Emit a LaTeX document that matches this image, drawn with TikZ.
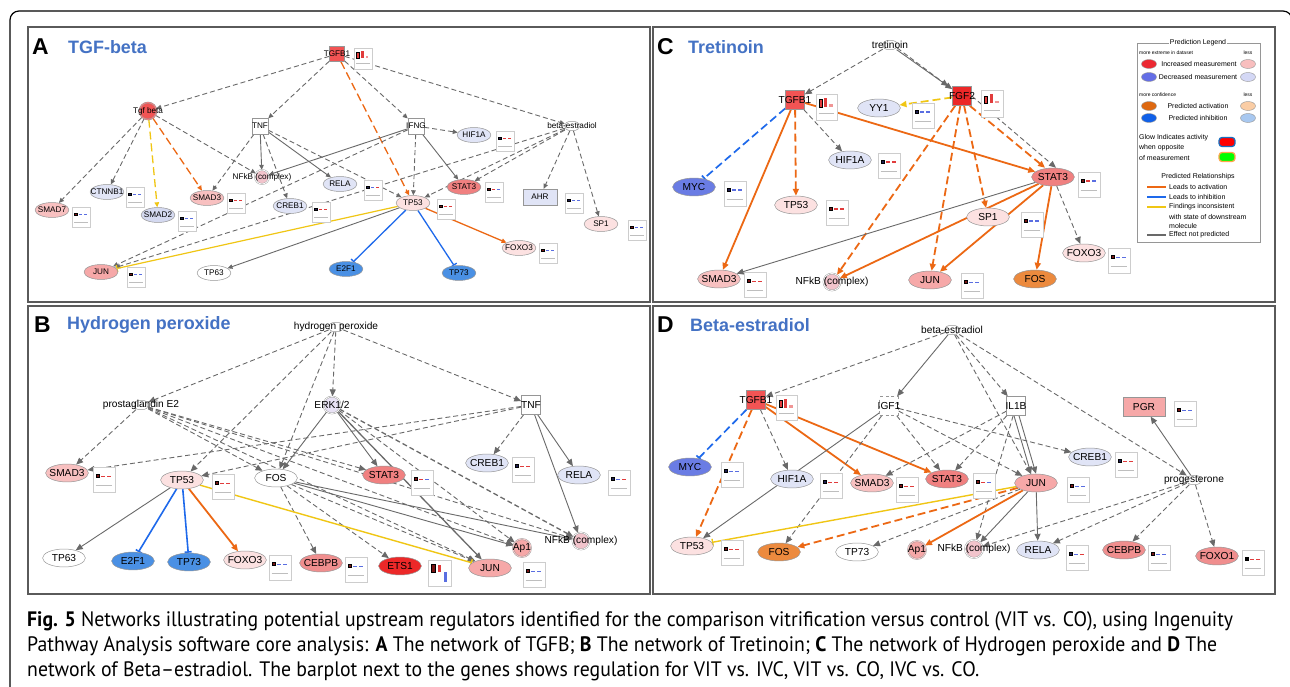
\documentclass[tikz,border=0pt]{standalone}
\usepackage{fontspec}
\usepackage{graphicx}
\setmainfont{Liberation Sans}
\newfontfamily\arl{Liberation Sans}
\newfontfamily\capf{PT Sans}
\usetikzlibrary{shapes.geometric,arrows.meta}
\pgfdeclarelayer{bg}
\pgfdeclarelayer{edges}
\pgfsetlayers{bg,edges,main}
\definecolor{nbd}{RGB}{150,150,150}
\definecolor{eg}{RGB}{105,105,105}
\definecolor{eor}{RGB}{236,104,20}
\definecolor{eye}{RGB}{240,198,20}
\definecolor{ebl}{RGB}{30,105,235}
\definecolor{red1}{RGB}{242,84,84}
\definecolor{red2}{RGB}{236,40,40}
\definecolor{pkA}{RGB}{240,128,128}
\definecolor{pkB}{RGB}{246,168,168}
\definecolor{pkC}{RGB}{248,192,192}
\definecolor{pkD}{RGB}{252,225,225}
\definecolor{pkE}{RGB}{240,142,142}
\definecolor{lb}{RGB}{224,228,246}
\definecolor{lb2}{RGB}{212,217,240}
\definecolor{bb}{RGB}{74,144,228}
\definecolor{myc}{RGB}{106,124,228}
\definecolor{fos}{RGB}{236,138,62}
\definecolor{cpx}{RGB}{242,196,204}
\definecolor{erk}{RGB}{232,226,244}
\definecolor{ttl}{RGB}{68,114,196}
\definecolor{pfr}{RGB}{90,90,90}
\definecolor{bpf}{RGB}{205,205,205}
\definecolor{bpb}{RGB}{190,190,190}
\definecolor{bdr}{RGB}{120,20,20}
\definecolor{bnv}{RGB}{30,30,80}
\definecolor{brd}{RGB}{225,60,60}
\definecolor{bbl}{RGB}{90,110,225}
\definecolor{bpk}{RGB}{240,150,150}
\definecolor{lgr}{RGB}{236,40,50}
\definecolor{lgrl}{RGB}{248,190,190}
\definecolor{lgb}{RGB}{100,110,230}
\definecolor{lgbl}{RGB}{212,216,245}
\definecolor{lgo}{RGB}{222,104,16}
\definecolor{lgol}{RGB}{250,205,165}
\definecolor{lgi}{RGB}{16,96,232}
\definecolor{lgil}{RGB}{168,200,240}
\newcommand\fA{\arl\fontsize{8.2}{9}\selectfont}
\newcommand\fL{\arl\fontsize{10.2}{11}\selectfont}
\newcommand\fLg{\arl\fontsize{7}{8}\selectfont}
\newcommand\fLs{\arl\fontsize{5}{6}\selectfont}
\newcommand\ttlL{\arl\bfseries\fontsize{23}{25}\selectfont}
\newcommand\ttlN{\arl\bfseries\fontsize{18}{20}\selectfont}
\newcommand\capfont{\capf\fontsize{21}{23}\selectfont}
\newcommand\z[1]{\makebox[0pt]{#1}}
\newcommand\bp[7]{%
 \draw[bpf, fill=white, line width=0.6pt] (#1,#2) rectangle (#1+#3,#2+#4);
 \draw[bpb, line width=0.6pt] (#1+0.12*#3,#2+0.74*#4) -- (#1+0.88*#3,#2+0.74*#4);
 \filldraw[fill=#5, draw=black, line width=0.3pt] (#1+0.14*#3,#2+0.3*#4) rectangle (#1+0.28*#3,#2+0.4*#4);
 \fill[#6] (#1+0.38*#3,#2+0.34*#4) rectangle (#1+0.56*#3,#2+0.4*#4);
 \fill[#7] (#1+0.64*#3,#2+0.34*#4) rectangle (#1+0.82*#3,#2+0.4*#4);}
\newcommand\bpt[4]{%
 \draw[bpf, fill=white, line width=0.6pt] (#1,#2) rectangle (#1+#3,#2+#4);
 \draw[bpb, line width=0.6pt] (#1+0.12*#3,#2+0.74*#4) -- (#1+0.88*#3,#2+0.74*#4);
 \filldraw[fill=brd, draw=black, line width=0.5pt] (#1+0.14*#3,#2+0.22*#4) rectangle (#1+0.3*#3,#2+0.5*#4);
 \fill[brd] (#1+0.4*#3,#2+0.16*#4) rectangle (#1+0.54*#3,#2+0.5*#4);
 \fill[bpk] (#1+0.64*#3,#2+0.4*#4) rectangle (#1+0.8*#3,#2+0.5*#4);}
\tikzset{
 gA/.style={ellipse, draw=nbd, line width=0.5pt, inner sep=0pt, minimum width=34pt, minimum height=15pt, font=\fA},
 gL/.style={ellipse, draw=nbd, line width=0.5pt, inner sep=0pt, minimum width=43pt, minimum height=18pt, font=\fL},
 sqbox/.style={rectangle, draw=nbd, line width=0.6pt, inner sep=0pt, minimum size=#1},
 cplx/.style={circle, draw=nbd, line width=0.4pt, double distance=0.8pt, inner sep=0pt, minimum size=#1},
 chem/.style={rectangle, rounded corners=4pt, draw=nbd, line width=0.5pt, fill=white, minimum width=14pt, minimum height=9pt, inner sep=0pt},
 labA/.style={font=\fA, inner sep=0pt},
 labL/.style={font=\fL, inner sep=0pt},
 lgell/.style={ellipse, draw=nbd, line width=0.4pt, minimum width=15pt, minimum height=9pt, inner sep=0pt},
 lgtx/.style={font=\fLg, inner sep=0pt},
 lgsm/.style={font=\fLs, inner sep=0pt},
 panel/.style={draw=pfr, line width=1.3pt},
 gd/.style={draw=eg, line width=0.9pt, dash pattern=on 5pt off 3pt, ->},
 gs/.style={draw=eg, line width=0.9pt, ->},
 od/.style={draw=eor, line width=1.8pt, dash pattern=on 8pt off 4pt, ->},
 os/.style={draw=eor, line width=1.8pt, ->},
 yd/.style={draw=eye, line width=1.7pt, dash pattern=on 8pt off 4pt, ->},
 yt/.style={draw=eye, line width=1.4pt, -{Bar[width=7pt]}},
 bt/.style={draw=ebl, line width=1.6pt, -{Bar[width=7pt]}},
 bdt/.style={draw=ebl, line width=1.7pt, dash pattern=on 8pt off 4pt, -{Bar[width=7pt]}}
}
\newsavebox\capbox
\newlength\capw
\begin{document}
\sbox\capbox{\capfont\textbf{Fig. 5} Networks illustrating potential upstream regulators identified for the comparison vitrification versus control (VIT vs. CO), using Ingenuity}
\setlength\capw{\wd\capbox}
\pgfmathsetmacro\capsc{1210.5/\capw}
\begin{tikzpicture}[x=1bp,y=-1bp]
\useasboundingbox (0,0) rectangle (1290,687);
\begin{pgfonlayer}{bg}
\fill[white] (0,0) rectangle (1290,687);
\end{pgfonlayer}
\begin{scope}
\clip (0,0) rectangle (1290,687);
\draw[line width=1.2pt, rounded corners=9pt] (10,700) -- (10,11) -- (1292,11) -- (1292,700);
\end{scope}
\draw[panel] (28,27) rectangle (650,302);
\draw[panel] (653,27) rectangle (1275,302);
\draw[panel] (28,306) rectangle (650,594);
\draw[panel] (653,306) rectangle (1275,594);
% titles
\node[anchor=west, font=\ttlL, inner sep=0] (tA) at (32,47) {A};
\node[anchor=west, font=\ttlN, text=ttl, inner sep=0] (tA2) at (68,47) {TGF-beta};
\node[anchor=west, font=\ttlL, inner sep=0] (tC) at (657,47) {C};
\node[anchor=west, font=\ttlN, text=ttl, inner sep=0] (tC2) at (688,47) {Tretinoin};
\node[anchor=west, font=\ttlL, inner sep=0] (tB) at (34,325) {B};
\node[anchor=west, font=\ttlN, text=ttl, inner sep=0] (tB2) at (67,325) {Hydrogen peroxide};
\node[anchor=west, font=\ttlL, inner sep=0] (tD) at (657,325) {D};
\node[anchor=west, font=\ttlN, text=ttl, inner sep=0] (tD2) at (690,325) {Beta-estradiol};
% ---------------- Panel A nodes
\node[sqbox=15pt, fill=red1, label={[labA]center:TGFB1}] (TGFB1A) at (337,54) {};
\node[cplx=17pt, fill=red1, double=red1!75!white, label={[labA]center:Tgf beta}] (TgfbA) at (148,111) {};
\node[sqbox=16pt, fill=white, label={[labA]center:TNF}] (TNFA) at (260,126) {};
\node[sqbox=16pt, fill=white, label={[labA]center:IFNG}] (IFNGA) at (416,126) {};
\node[gA, fill=lb] (HIF1AA) at (474,135) {\z{HIF1A}};
\node[chem, label={[labA]center:beta-estradiol}] (beA) at (572,126) {};
\node[cplx=14pt, fill=cpx, double=white, label={[labA]center:NFkB (complex)}] (NFkBA) at (262,177) {};
\node[gA, fill=lb] (RELAA) at (340,184) {\z{RELA}};
\node[gA, fill=lb] (CTNNB1A) at (107,192) {\z{CTNNB1}};
\node[gA, fill=pkC] (SMAD3A) at (207,198) {\z{SMAD3}};
\node[gA, fill=lb] (CREB1A) at (290,206) {\z{CREB1}};
\node[gA, fill=pkA] (STAT3A) at (464,187) {\z{STAT3}};
\node[rectangle, draw=nbd, fill=lb, minimum width=34pt, minimum height=16pt, inner sep=0pt, font=\fA] (AHRA) at (540,197) {AHR};
\node[gA, fill=pkC] (SMAD7A) at (52,210) {\z{SMAD7}};
\node[gA, fill=lb2] (SMAD2A) at (158,215) {\z{SMAD2}};
\node[gA, fill=pkD] (TP53A) at (413,203) {\z{TP53}};
\node[gA, fill=pkD] (SP1A) at (601,224) {\z{SP1}};
\node[gA, fill=pkD] (FOXO3A) at (519,248) {\z{FOXO3}};
\node[gA, fill=pkB] (JUNA) at (101,272) {\z{JUN}};
\node[gA, fill=white] (TP63A) at (214,273) {\z{TP63}};
\node[gA, fill=bb] (E2F1A) at (346,269) {\z{E2F1}};
\node[gA, fill=bb] (TP73A) at (459,273) {\z{TP73}};
\bpt{354}{48}{18}{21}
\bp{496}{131}{18}{20}{bnv}{brd}{brd}
\bp{364}{180}{18}{20}{bnv}{bbl}{brd}
\bp{126}{187}{18}{20}{bnv}{bbl}{bbl}
\bp{227}{193}{18}{20}{bdr}{brd}{brd}
\bp{312}{202}{18}{20}{bnv}{brd}{brd}
\bp{485}{182}{18}{20}{bdr}{brd}{bbl}
\bp{565}{193}{18}{20}{bnv}{bbl}{bbl}
\bp{72}{207}{18}{20}{bdr}{bbl}{bbl}
\bp{178}{211}{18}{20}{bnv}{bbl}{bbl}
\bp{437}{199}{18}{20}{bdr}{brd}{brd}
\bp{628}{220}{18}{20}{bdr}{bbl}{bbl}
\bp{539}{243}{18}{20}{bdr}{bbl}{bbl}
\bp{127}{267}{18}{20}{bdr}{bbl}{bbl}
% ---------------- Panel C nodes
\node[chem, label={[labL]center:tretinoin}] (tretC) at (890,45) {};
\node[sqbox=19pt, fill=red1, label={[labL]center:TGFB1}] (TGFB1C) at (795,100) {};
\node[sqbox=19pt, fill=red2, label={[labL]center:FGF2}] (FGF2C) at (962,96) {};
\node[gL, fill=lb] (YY1C) at (879,108) {\z{YY1}};
\node[gL, fill=lb] (HIF1AC) at (850,160) {\z{HIF1A}};
\node[gL, fill=myc] (MYCC) at (694,187) {\z{MYC}};
\node[gL, fill=pkD] (TP53C) at (796,205) {\z{TP53}};
\node[gL, fill=pkA] (STAT3C) at (1053,177) {\z{STAT3}};
\node[gL, fill=pkD] (SP1C) at (988,217) {\z{SP1}};
\node[gL, fill=pkD] (FOXO3C) at (1084,253) {\z{FOXO3}};
\node[gL, fill=fos] (FOSC) at (1035,279) {\z{FOS}};
\node[gL, fill=pkB] (JUNC) at (930,280) {\z{JUN}};
\node[gL, fill=pkC] (SMAD3C) at (719,279) {\z{SMAD3}};
\node[cplx=17pt, fill=cpx, double=white, label={[labL]center:NFkB (complex)}] (NFkBC) at (832,282) {};
\bpt{816}{94}{21}{26}
\bpt{981}{90}{22}{27}
\bp{912}{103}{22}{25}{bnv}{bbl}{bbl}
\bp{878}{153}{22}{25}{bnv}{brd}{brd}
\bp{724}{181}{22}{25}{bnv}{bbl}{bbl}
\bp{826}{200}{22}{25}{bdr}{brd}{brd}
\bp{1078}{172}{22}{25}{bdr}{brd}{bbl}
\bp{1021}{212}{22}{25}{bdr}{bbl}{bbl}
\bp{1108}{248}{22}{25}{bdr}{bbl}{bbl}
\bp{961}{273}{22}{25}{bdr}{bbl}{bbl}
\bp{744}{272}{22}{25}{bdr}{brd}{brd}
% legend
\draw[nbd, line width=0.8pt] (1137,43) rectangle (1260,242);
\node[fill=white, font=\fLg, inner sep=1pt] (lgT) at (1198,43) {Prediction Legend};
\node[lgsm, anchor=west] (lgm1) at (1139,53) {more extreme in dataset};
\node[lgsm] (lgl1) at (1248,53) {less};
\node[lgell, fill=lgr] (lgE1) at (1149,64) {};
\node[lgtx] (lgt1) at (1199,64) {Increased measurement};
\node[lgell, fill=lgrl] (lgE2) at (1248,64) {};
\node[lgell, fill=lgb] (lgE3) at (1149,77) {};
\node[lgtx] (lgt2) at (1198,77) {Decreased measurement};
\node[lgell, fill=lgbl] (lgE4) at (1248,77) {};
\node[lgsm, anchor=west] (lgm2) at (1139,95) {more confidence};
\node[lgsm] (lgl2) at (1248,95) {less};
\node[lgell, fill=lgo] (lgE5) at (1149,106) {};
\node[lgtx] (lgt3) at (1198,106) {Predicted activation};
\node[lgell, fill=lgol] (lgE6) at (1248,106) {};
\node[lgell, fill=lgi] (lgE7) at (1149,118) {};
\node[lgtx] (lgt4) at (1198,118) {Predicted inhibition};
\node[lgell, fill=lgil] (lgE8) at (1248,118) {};
\node[lgtx, anchor=west] (lgw1) at (1139,138) {Glow Indicates activity};
\node[lgtx, anchor=west] (lgw2) at (1139,148) {when opposite};
\node[lgtx, anchor=west] (lgw3) at (1139,158) {of measurement};
\node[rectangle, rounded corners=3pt, fill=red, draw=cyan!50!blue, line width=1.3pt, minimum width=16pt, minimum height=9pt, inner sep=0pt] (lgG1) at (1227,142) {};
\node[rectangle, rounded corners=3pt, fill=green, draw=orange!70, line width=1.3pt, minimum width=16pt, minimum height=9pt, inner sep=0pt] (lgG2) at (1227,157) {};
\node[lgtx] (lgPR) at (1198,177) {Predicted Relationships};
\draw[eor, line width=1.4pt] (1147,187) -- (1166,187);
\draw[ebl, line width=1.4pt] (1147,197) -- (1166,197);
\draw[eye, line width=1.4pt] (1147,207) -- (1166,207);
\draw[eg, line width=1.4pt] (1147,235) -- (1166,235);
\node[lgtx, anchor=west] (lgr1) at (1169,187) {Leads to activation};
\node[lgtx, anchor=west] (lgr2) at (1169,197) {Leads to inhibition};
\node[lgtx, anchor=west] (lgr3) at (1169,207) {Findings inconsistent};
\node[lgtx, anchor=west] (lgr4) at (1169,217) {with state of downstream};
\node[lgtx, anchor=west] (lgr5) at (1169,226) {molecule};
\node[lgtx, anchor=west] (lgr6) at (1169,235) {Effect not predicted};
% ---------------- Panel B nodes
\node[chem, label={[labL]center:hydrogen peroxide}] (hpB) at (336,327) {};
\node[chem, label={[labL]center:prostaglandin E2}] (pgB) at (141,405) {};
\node[cplx=17pt, fill=erk, double=white, label={[labL]center:ERK1/2}] (ERKB) at (332,405) {};
\node[sqbox=19pt, fill=white, label={[labL]center:TNF}] (TNFB) at (531,405) {};
\node[gL, fill=pkC] (SMAD3B) at (67,473) {\z{SMAD3}};
\node[gL, fill=pkD] (TP53B) at (182,480) {\z{TP53}};
\node[gL, fill=white] (FOSB) at (276,478) {\z{FOS}};
\node[gL, fill=pkA] (STAT3B) at (384,475) {\z{STAT3}};
\node[gL, fill=lb] (CREB1B) at (487,463) {\z{CREB1}};
\node[gL, fill=lb] (RELAB) at (579,475) {\z{RELA}};
\node[cplx=18pt, fill=pkB, double=pkB!60!white, label={[labL]center:Ap1}] (Ap1B) at (522,548) {};
\node[cplx=17pt, fill=cpx, double=white, label={[labL]center:NFkB (complex)}] (NFkBB) at (581,541) {};
\node[gL, fill=white] (TP63B) at (64,558) {\z{TP63}};
\node[gL, fill=bb] (E2F1B) at (133,561) {\z{E2F1}};
\node[gL, fill=bb] (TP73B) at (189,562) {\z{TP73}};
\node[gL, fill=pkD] (FOXO3B) at (245,560) {\z{FOXO3}};
\node[gL, fill=pkE] (CEBPBB) at (321,563) {\z{CEBPB}};
\node[gL, fill=red2] (ETS1B) at (400,566) {\z{ETS1}};
\node[gL, fill=pkB] (JUNB) at (490,568) {\z{JUN}};
\bp{93}{467}{22}{25}{bdr}{brd}{brd}
\bp{212}{474}{22}{25}{bdr}{brd}{brd}
\bp{411}{470}{22}{25}{bdr}{brd}{bbl}
\bp{512}{457}{22}{25}{bnv}{brd}{brd}
\bp{608}{470}{22}{25}{bnv}{bbl}{brd}
\bp{269}{555}{22}{25}{bdr}{bbl}{bbl}
\bp{345}{557}{22}{25}{bdr}{bbl}{bbl}
\bp{523}{562}{22}{25}{bdr}{bbl}{bbl}
\draw[bpf, fill=white, line width=0.6pt] (428,560) rectangle (451,586);
\filldraw[fill=bdr, draw=black, line width=0.5pt] (431,564) rectangle (435,572);
\fill[brd] (438,565) rectangle (441,572);
\fill[bbl] (444,572) rectangle (447,582);
% ---------------- Panel D nodes
\node[chem, label={[labL]center:beta-estradiol}] (beD) at (952,330) {};
\node[sqbox=19pt, fill=red1, label={[labL]center:TGFB1}] (TGFB1D) at (756,400) {};
\node[sqbox=19pt, fill=white, dashed, label={[labL]center:IGF1}] (IGF1D) at (889,406) {};
\node[sqbox=19pt, fill=white, label={[labL]center:IL1B}] (IL1BD) at (1016,406) {};
\node[rectangle, draw=nbd, fill=pkB, minimum width=42pt, minimum height=19pt, inner sep=0pt, font=\fL] (PGRD) at (1144,407) {PGR};
\node[gL, fill=myc] (MYCD) at (690,467) {\z{MYC}};
\node[gL, fill=lb] (HIF1AD) at (792,479) {\z{HIF1A}};
\node[gL, fill=pkC] (SMAD3D) at (872,483) {\z{SMAD3}};
\node[gL, fill=pkA] (STAT3D) at (947,479) {\z{STAT3}};
\node[gL, fill=pkB] (JUND) at (1036,483) {\z{JUN}};
\node[gL, fill=lb] (CREB1D) at (1090,457) {\z{CREB1}};
\node[chem, label={[labL]center:progesterone}] (progD) at (1194,480) {};
\node[gL, fill=pkD] (TP53D) at (692,546) {\z{TP53}};
\node[gL, fill=fos] (FOSD) at (779,552) {\z{FOS}};
\node[gL, fill=white] (TP73D) at (857,552) {\z{TP73}};
\node[cplx=18pt, fill=pkB, double=pkB!60!white, label={[labL]center:Ap1}] (Ap1D) at (917,550) {};
\node[cplx=18pt, fill=cpx, double=white, label={[labL]center:NFkB (complex)}] (NFkBD) at (974,549) {};
\node[gL, fill=lb] (RELAD) at (1038,550) {\z{RELA}};
\node[gL, fill=pkE] (CEBPBD) at (1124,550) {\z{CEBPB}};
\node[gL, fill=pkE] (FOXO1D) at (1217,556) {\z{FOXO1}};
\bpt{776}{395}{21}{25}
\bp{721}{462}{22}{25}{bnv}{bbl}{bbl}
\bp{820}{473}{22}{25}{bnv}{brd}{brd}
\bp{896}{477}{22}{25}{bdr}{brd}{brd}
\bp{973}{473}{22}{25}{bdr}{brd}{bbl}
\bp{1174}{401}{22}{25}{bdr}{bbl}{bbl}
\bp{1115}{452}{22}{25}{bnv}{brd}{brd}
\bp{1067}{477}{22}{25}{bdr}{bbl}{bbl}
\bp{721}{540}{22}{25}{bdr}{brd}{brd}
\bp{1066}{545}{22}{25}{bnv}{bbl}{brd}
\bp{1148}{545}{22}{25}{bdr}{bbl}{bbl}
\bp{1242}{550}{22}{25}{black}{brd}{brd}
% ---------------- caption
\node[anchor=base west, inner sep=0] (cap1) at (27,626) {\scalebox{\capsc}[1]{\usebox\capbox}};
\node[anchor=base west, inner sep=0] (cap2) at (27,651) {\scalebox{\capsc}[1]{\capfont Pathway Analysis software core analysis: \textbf{A} The network of TGFB; \textbf{B} The network of Tretinoin; \textbf{C} The network of Hydrogen peroxide and \textbf{D} The}};
\node[anchor=base west, inner sep=0] (cap3) at (27,676) {\scalebox{\capsc}[1]{\capfont network of Beta–estradiol. The barplot next to the genes shows regulation for VIT vs. IVC, VIT vs. CO, IVC vs. CO.}};
% ---------------- edges
\begin{pgfonlayer}{edges}
\begin{scope}[>={Triangle[length=5pt,width=4.5pt]}]
\draw[gd] (TGFB1A) -- (TgfbA);
\draw[gd] (TGFB1A) -- (TNFA);
\draw[gd] (TGFB1A) -- (IFNGA);
\draw[gd] (TGFB1A) -- (beA);
\draw[od, line width=1.3pt] (TGFB1A) -- (TP53A);
\draw[gd] (TgfbA) -- (SMAD7A);
\draw[gd] (TgfbA) -- (CTNNB1A);
\draw[yd, line width=1.3pt] (TgfbA) -- (SMAD2A);
\draw[od, line width=1.3pt] (TgfbA) -- (SMAD3A);
\draw[gd] (TgfbA) -- (NFkBA);
\draw[gs] (TNFA) -- (NFkBA);
\draw[gd] (TNFA) -- (SMAD3A);
\draw[gd] (TNFA) -- (CREB1A);
\draw[gd] (TNFA) -- (TP53A);
\draw[gs] (TNFA) -- (RELAA);
\draw[gs] (IFNGA) -- (NFkBA);
\draw[gd] (IFNGA) -- (HIF1AA);
\draw[gd] (IFNGA) -- (TP53A);
\draw[gd] (IFNGA) -- (JUNA);
\draw[gs] (IFNGA) -- (STAT3A);
\draw[gd] (beA) -- (STAT3A);
\draw[gd] (beA) -- (TP53A);
\draw[gd] (beA) -- (AHRA);
\draw[gd] (beA) -- (SP1A);
\draw[gd] (beA) -- (JUNA);
\draw[yt, line width=1.2pt] (TP53A) -- (JUNA);
\draw[gs] (TP53A) -- (TP63A);
\draw[bt, line width=1.3pt] (TP53A) -- (E2F1A);
\draw[bt, line width=1.3pt] (TP53A) -- (TP73A);
\draw[os, line width=1.3pt] (TP53A) -- (FOXO3A);
\end{scope}
\begin{scope}[>={Triangle[length=7pt,width=6pt]}]
% C
\draw[gd] (tretC) -- (TGFB1C);
\draw[gs] (tretC) -- (FGF2C);
\draw[gd] ([yshift=-3pt]tretC.east) -- ([xshift=-4pt]FGF2C.north west);
\draw[yd] (FGF2C) -- (YY1C);
\draw[bdt] (TGFB1C) -- (MYCC);
\draw[od] (TGFB1C) -- (TP53C);
\draw[os] (TGFB1C) -- (SMAD3C);
\draw[gd] (TGFB1C) -- (HIF1AC);
\draw[os] (TGFB1C) -- (STAT3C);
\draw[od] (FGF2C) -- (NFkBC);
\draw[od] (FGF2C) -- (JUNC);
\draw[od] (FGF2C) -- (SP1C);
\draw[od] ([xshift=-2pt]FGF2C.south east) -- ([xshift=-8pt]STAT3C.north);
\draw[gd] (FGF2C.east) -- ([xshift=3pt]STAT3C.north);
\draw[gs] (STAT3C) -- (SMAD3C);
\draw[os] (STAT3C) -- (NFkBC);
\draw[os] (STAT3C) -- (JUNC);
\draw[os] (STAT3C) -- (FOSC);
\draw[gd] (STAT3C) -- (FOXO3C);
% B
\draw[gd] (hpB) -- (pgB);
\draw[gd] (hpB) -- (ERKB);
\draw[gd] (hpB) -- (TNFB);
\draw[gd] (hpB) -- (TP53B);
\draw[gd] (hpB) -- (FOSB);
\draw[gd] (pgB) -- (SMAD3B);
\draw[gd] (pgB) -- (FOSB);
\draw[gd] (pgB) -- (STAT3B);
\draw[gd] (pgB) -- (Ap1B);
\draw[gd] (pgB) -- (JUNB);
\draw[gd] (pgB) -- (NFkBB);
\draw[gs] (ERKB) -- (FOSB);
\draw[gs] (ERKB) -- (STAT3B);
\draw[gs, line width=1.3pt] (ERKB) -- (JUNB);
\draw[gd] (ERKB) -- (Ap1B);
\draw[gd, line width=1.3pt] (ERKB) -- (NFkBB);
\draw[gd] (TNFB) -- (SMAD3B);
\draw[gd] (TNFB) -- (TP53B);
\draw[gd] (TNFB) -- (CREB1B);
\draw[gs] (TNFB) -- (RELAB);
\draw[gs] (TNFB) -- (NFkBB);
\draw[gd] (FOSB) -- (CEBPBB);
\draw[gd] (FOSB) -- (ETS1B);
\draw[gd] (FOSB) -- (JUNB);
\draw[gs] (FOSB) -- (Ap1B);
\draw[gs] (FOSB) -- (NFkBB);
\draw[gs] (TP53B) -- (TP63B);
\draw[bt] (TP53B) -- (E2F1B);
\draw[bt] (TP53B) -- (TP73B);
\draw[os] (TP53B) -- (FOXO3B);
\draw[yt] (TP53B) -- (JUNB);
% D
\draw[gd] (beD) -- (TGFB1D);
\draw[gs] (beD) -- (IGF1D);
\draw[gd] (beD) -- (IL1BD);
\draw[gd] (beD) -- (JUND);
\draw[gd] (beD) -- (progD);
\draw[bdt] (TGFB1D) -- (MYCD);
\draw[od] (TGFB1D) -- (TP53D);
\draw[gd] (TGFB1D) -- (HIF1AD);
\draw[os] (TGFB1D) -- (SMAD3D);
\draw[os] (TGFB1D) -- (STAT3D);
\draw[gs] (IGF1D) -- (TP53D);
\draw[gd] (IGF1D) -- (FOSD);
\draw[gd] (IGF1D) -- (STAT3D);
\draw[gd] (IGF1D) -- (CREB1D);
\draw[gd] (IGF1D) -- (JUND);
\draw[gd] (IL1BD) -- (SMAD3D);
\draw[gd] (IL1BD) -- (STAT3D);
\draw[gs] ([xshift=-2pt]IL1BD.south) -- ([xshift=-5pt]JUND.north);
\draw[gs] ([xshift=3pt]IL1BD.south) -- ([xshift=0pt]JUND.north);
\draw[gd] (IL1BD) -- (NFkBD);
\draw[yt] (JUND) -- (TP53D);
\draw[od] (JUND) -- (FOSD);
\draw[os] (JUND) -- (Ap1D);
\draw[gs] (JUND) -- (NFkBD);
\draw[gs] (JUND) -- (RELAD);
\draw[gd] (JUND) -- (TP73D);
\draw[gs] (progD) -- (PGRD);
\draw[gd] (progD) -- (CEBPBD);
\draw[gd] (progD) -- (FOXO1D);
\draw[gd] (progD) -- (RELAD);
\draw[gd] (progD) -- (NFkBD);
\end{scope}
\end{pgfonlayer}
\end{tikzpicture}
\end{document}
